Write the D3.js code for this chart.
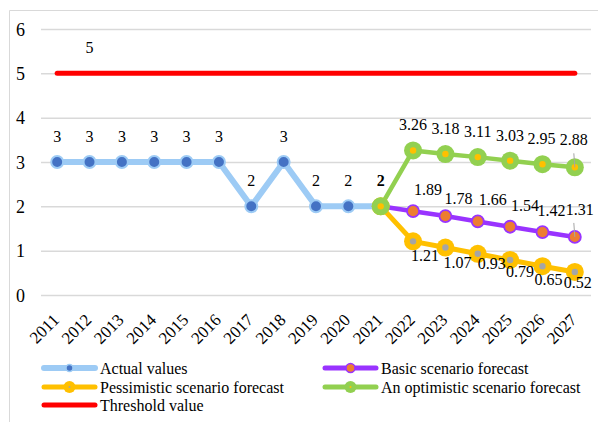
<!DOCTYPE html>
<html><head><meta charset="utf-8">
<script src="https://cdn.jsdelivr.net/npm/d3@7"></script>
<style>body{margin:0;background:#fff}svg{display:block}</style>
</head><body>
<svg id="c" width="598" height="422"></svg>
<script>
const years = ["2011","2012","2013","2014","2015","2016","2017","2018","2019","2020","2021","2022","2023","2024","2025","2026","2027"];
const actual = [3,3,3,3,3,3,2,3,2,2,2,null,null,null,null,null,null];
const basic = [null,null,null,null,null,null,null,null,null,null,2,1.89,1.78,1.66,1.54,1.42,1.31];
const pessimistic = [null,null,null,null,null,null,null,null,null,null,2,1.21,1.07,0.93,0.79,0.65,0.52];
const optimistic = [null,null,null,null,null,null,null,null,null,null,2,3.26,3.18,3.11,3.03,2.95,2.88];
const threshold = [5,5,5,5,5,5,5,5,5,5,5,5,5,5,5,5,5];
const yTicks = [0,1,2,3,4,5,6];
const legendNames = ["Actual values","Basic scenario forecast","Pessimistic scenario forecast","An optimistic scenario forecast","Threshold value"];

const FONT = "'Liberation Serif'";
const svg = d3.select("#c");
const x = d3.scaleBand().domain(years).range([41,591]);
const y = d3.scaleLinear().domain([0,6]).range([295,29]);
const cx = d => x(d) + x.bandwidth()/2;

// chart border
svg.append("line").attr("x1",9.5).attr("x2",9.5).attr("y1",10.5).attr("y2",422).attr("stroke","#d9d9d9").attr("stroke-width",1);
svg.append("line").attr("x1",9.5).attr("x2",598).attr("y1",10.5).attr("y2",10.5).attr("stroke","#d9d9d9").attr("stroke-width",1);

// grid + y labels
const yAxis = d3.axisLeft(y).tickValues(yTicks).tickSize(-550).tickFormat(d3.format("d"));
const ga = svg.append("g").attr("transform","translate(41,0)").call(yAxis);
ga.attr("font-family", null).attr("font-size", null);
ga.select(".domain").remove();
ga.selectAll(".tick line").attr("stroke","#d9d9d9").attr("stroke-width",1.5);
ga.selectAll(".tick text").attr("x",-16).attr("font-size",18).attr("dy","0.35em").attr("fill","#000").style("font-family", FONT);

// x axis labels
const xAxis = d3.axisBottom(x).tickSize(0);
const gx = svg.append("g").attr("transform","translate(0,295)").call(xAxis);
gx.attr("font-family", null).attr("font-size", null);
gx.select(".domain").remove();
gx.selectAll(".tick text").attr("font-size",17).attr("text-anchor","end").attr("fill","#000").style("font-family", FONT)
  .attr("y",0).attr("dy",0).attr("dx",0).attr("transform","translate(3,26) rotate(-45)");

const line = d3.line().defined(d => d.v != null).x(d => cx(d.k)).y(d => y(d.v));
const pts = arr => arr.map((v,i)=>({k:years[i],v,i}));

// threshold
svg.append("path").datum(pts(threshold)).attr("d",line).attr("fill","none").attr("stroke","#ff0000").attr("stroke-width",5).attr("stroke-linecap","round");
// actual
svg.append("path").datum(pts(actual)).attr("d",line).attr("fill","none").attr("stroke","#9dcbf5").attr("stroke-width",6).attr("stroke-linejoin","round");
// pessimistic
svg.append("path").datum(pts(pessimistic)).attr("d",line).attr("fill","none").attr("stroke","#ffc000").attr("stroke-width",5).attr("stroke-linejoin","round");
// basic
svg.append("path").datum(pts(basic)).attr("d",line).attr("fill","none").attr("stroke","#9933ff").attr("stroke-width",4.5).attr("stroke-linejoin","round");
// optimistic
svg.append("path").datum(pts(optimistic)).attr("d",line).attr("fill","none").attr("stroke","#92d050").attr("stroke-width",4.5).attr("stroke-linejoin","round");

// markers
const defd = arr => pts(arr).filter(d => d.v != null);
svg.append("g").selectAll("circle").data(defd(actual)).join("circle")
  .attr("cx",d=>cx(d.k)).attr("cy",d=>y(d.v)).attr("r",6).attr("fill","#4472c4").attr("stroke","#9dcbf5").attr("stroke-width",2);
svg.append("g").selectAll("circle").data(defd(pessimistic)).join("circle")
  .attr("cx",d=>cx(d.k)).attr("cy",d=>y(d.v)).attr("r",9).attr("fill","#ffc000");
svg.append("g").selectAll("circle").data(defd(pessimistic)).join("circle")
  .attr("cx",d=>cx(d.k)).attr("cy",d=>y(d.v)).attr("r",3.2).attr("fill","#a5a5a5");
svg.append("g").selectAll("circle").data(defd(basic)).join("circle")
  .attr("cx",d=>cx(d.k)).attr("cy",d=>y(d.v)).attr("r",6).attr("fill","#ed7d31").attr("stroke","#9933ff").attr("stroke-width",1.8);
svg.append("g").selectAll("circle").data(defd(optimistic)).join("circle")
  .attr("cx",d=>cx(d.k)).attr("cy",d=>y(d.v)).attr("r",9).attr("fill","#92d050");
svg.append("g").selectAll("circle").data(defd(optimistic)).join("circle")
  .attr("cx",d=>cx(d.k)).attr("cy",d=>y(d.v)).attr("r",3.2).attr("fill","#ffc000");

// data labels
const fmt = v => (Number.isInteger(v) ? d3.format("d")(v) : d3.format(".2f")(v));
const lab = svg.append("g");
function addLabels(arr, dx, dy, opts={}) {
  defd(arr).forEach(d => {
    if (opts.skip && opts.skip(d)) return;
    let ox = dx, oy = dy;
    if (opts.over && opts.over[d.k]) { ox = opts.over[d.k][0]; oy = opts.over[d.k][1]; }
    const t = lab.append("text").attr("x",cx(d.k)+ox).attr("y",y(d.v)+oy).attr("text-anchor","middle")
      .attr("font-size",16).attr("fill","#000").style("font-family", FONT).text(fmt(d.v));
    if (opts.bold && opts.bold(d)) t.attr("font-weight","bold");
  });
}
addLabels(actual, 0, -20, {bold: d => d.k==="2021"});
addLabels(threshold, 0, -20, {skip: d => d.k!=="2012"});
addLabels(optimistic, 0, -20, {skip: d => d.k==="2021", over:{"2026":[-1,-20],"2027":[-1,-22]}});
addLabels(basic, 15, -16, {skip: d => d.k==="2021", over:{"2023":[13,-12],"2026":[9,-16],"2027":[5,-22]}});
addLabels(pessimistic, 12, 20, {skip: d => d.k==="2021", over:{"2024":[14,15],"2025":[10,17],"2026":[6,19],"2027":[3,16]}});
// leader lines for last points
[[optimistic,-14],[basic,-14]].forEach(([arr,off])=>{
  const k = years[arr.length-1], v = arr[arr.length-1];
  svg.append("line").attr("x1",cx(k)-1).attr("x2",cx(k)).attr("y1",y(v)+off).attr("y2",y(v)).attr("stroke","#a5a5a5").attr("stroke-width",1);
});

// legend
const leg = svg.append("g");
const legPos = [[42,368],[323,368],[42,387],[323,387],[42,405]];
const legStyle = [
  {c:"#9dcbf5", w:6, m:{r:3.5, f:"#4472c4", s:"#9dcbf5"}},
  {c:"#9933ff", w:5, m:{r:4.5, f:"#ed7d31", s:"#9933ff"}},
  {c:"#ffc000", w:5, m:{r:6, f:"#ffc000", inner:"#a5a5a5"}},
  {c:"#92d050", w:5, m:{r:6, f:"#92d050", inner:"#ffc000"}},
  {c:"#ff0000", w:5, m:null}
];
legendNames.forEach((n,i)=>{
  const [lx,ly] = legPos[i], s = legStyle[i];
  leg.append("line").attr("x1",lx+2).attr("x2",lx+53).attr("y1",ly).attr("y2",ly).attr("stroke",s.c).attr("stroke-width",s.w).attr("stroke-linecap","round");
  if (s.m) {
    leg.append("circle").attr("cx",lx+27.5).attr("cy",ly).attr("r",s.m.r).attr("fill",s.m.f).attr("stroke",s.m.s||"none").attr("stroke-width",1.5);
    if (s.m.inner) leg.append("circle").attr("cx",lx+27.5).attr("cy",ly).attr("r",1).attr("fill",s.m.inner);
  }
  leg.append("text").attr("x",lx+58).attr("y",ly+5.5).attr("font-size",16).attr("fill","#000").style("font-family", FONT).text(n);
});
</script>
</body></html>
